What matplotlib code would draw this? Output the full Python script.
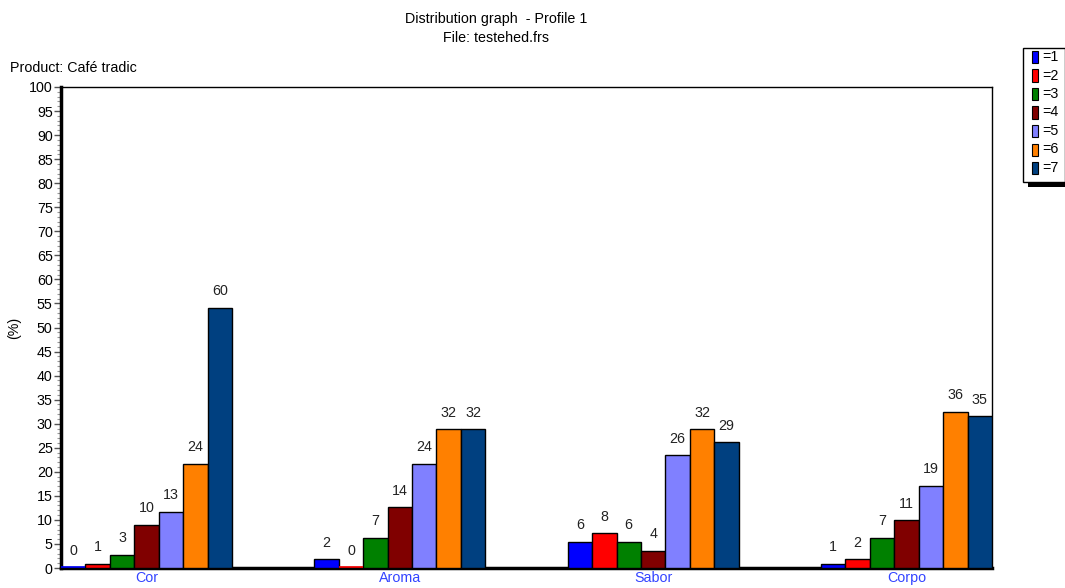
import numpy as np
import matplotlib
matplotlib.use("Agg")
import matplotlib.pyplot as plt
from matplotlib.patches import Rectangle
from matplotlib.ticker import MultipleLocator

plt.rcParams['font.family'] = ['Liberation Sans', 'DejaVu Sans']

attributes = ["Cor", "Aroma", "Sabor", "Corpo"]
scores = ["=1", "=2", "=3", "=4", "=5", "=6", "=7"]
# number of judges giving each score, per attribute
counts = {
    "Cor":   [0, 1, 3, 10, 13, 24, 60],
    "Aroma": [2, 0, 7, 14, 24, 32, 32],
    "Sabor": [6, 8, 6, 4, 26, 32, 29],
    "Corpo": [1, 2, 7, 11, 19, 36, 35],
}
colors = ["#0000FF", "#FF0000", "#008000", "#800000", "#8080FF", "#FF8000", "#004080"]

FS = 10.3
fig = plt.figure(figsize=(10.65, 5.88), dpi=100)
ax = fig.add_axes([61 / 1065, 20 / 588, 931 / 1065, 481 / 588])

group_step = 10.37
for gi, attr in enumerate(attributes):
    vals = np.array(counts[attr], dtype=float)
    pct = vals / vals.sum() * 100
    for si in range(len(scores)):
        x = gi * group_step + (si - 3)
        ax.bar(x, pct[si], width=1.0, color=colors[si], edgecolor="black",
               linewidth=1.0, zorder=3)
        if pct[si] == 0:
            # empty class still shown as a thin coloured line on the baseline
            ax.plot([x - 0.5, x + 0.5], [0.25, 0.25], color=colors[si],
                    linewidth=1.2, zorder=4, solid_capstyle="butt")
        ax.text(x, pct[si] + 2.0, f"{int(vals[si])}", ha="center", va="bottom",
                fontsize=FS, color="#222222", zorder=4)

ax.set_xlim(-3.5, 3 * group_step + 3.5)
ax.set_ylim(0, 100)
ax.set_xticks([gi * group_step for gi in range(len(attributes))])
ax.set_xticklabels(attributes, color="#3344FF", fontsize=FS)
ax.tick_params(axis="x", length=0, pad=2)

ax.yaxis.set_major_locator(MultipleLocator(5))
ax.yaxis.set_minor_locator(MultipleLocator(1))
ax.tick_params(axis="y", which="major", length=5, width=1, color="#555555",
               labelsize=FS, pad=1)
ax.tick_params(axis="y", which="minor", length=3, width=0.8, color="#999999")

for side in ("top", "right"):
    ax.spines[side].set_linewidth(1.0)
ax.spines["left"].set_linewidth(2.5)
ax.spines["bottom"].set_linewidth(2.5)

ax.set_ylabel("(%)", fontsize=FS)
ax.yaxis.set_label_coords(-0.043, 0.5)

fig.text(496 / 1065, 1 - 19 / 588, "Distribution graph  - Profile 1",
         ha="center", va="center", fontsize=FS)
fig.text(496 / 1065, 1 - 38 / 588, "File: testehed.frs",
         ha="center", va="center", fontsize=FS)
fig.text(10 / 1065, 1 - 68 / 588, "Product: Café tradic",
         ha="left", va="center", fontsize=FS)

# legend box with shadow
W, H = 1065, 588
shadow = Rectangle((1028 / W, 1 - 187 / H), 37 / W, 6 / H,
                   transform=fig.transFigure, facecolor="black", edgecolor="none")
fig.patches.append(shadow)
box = Rectangle((1023 / W, 1 - 182 / H), 42 / W, 134 / H,
                transform=fig.transFigure, facecolor="white",
                edgecolor="black", linewidth=1.0)
fig.patches.append(box)
for i, (lab, c) in enumerate(zip(scores, colors)):
    yc = 57 + i * 18.5
    sw = Rectangle((1032 / W, 1 - (yc + 6) / H), 6 / W, 12 / H,
                   transform=fig.transFigure, facecolor=c, edgecolor="black",
                   linewidth=0.8)
    fig.patches.append(sw)
    fig.text(1042 / W, 1 - yc / H, lab, ha="left", va="center", fontsize=FS)

fig.savefig("out.png", dpi=100)
